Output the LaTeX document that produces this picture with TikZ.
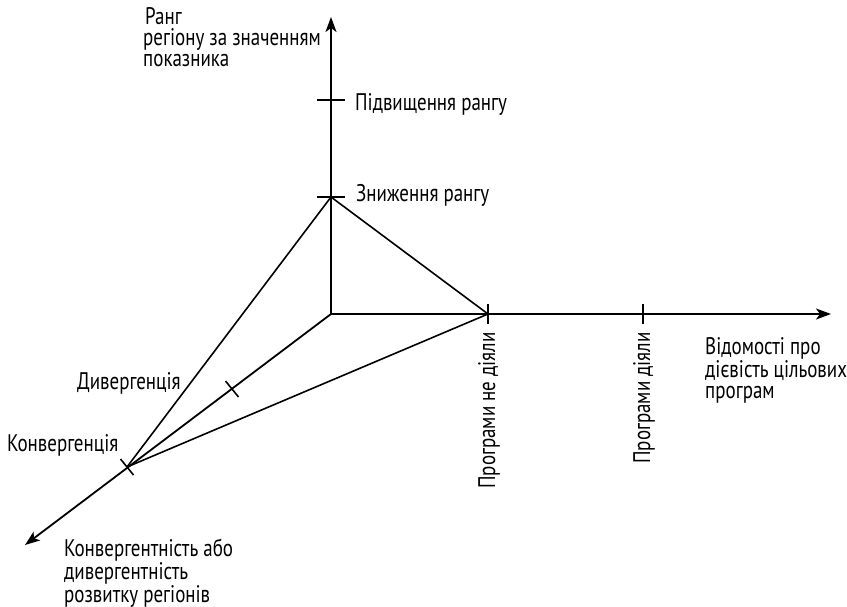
\documentclass[tikz,border=0pt]{standalone}
\usepackage{fontspec}
\setmainfont{PT Sans}[FakeStretch=0.79]
\usetikzlibrary{arrows.meta,calc}
\tikzset{
  axis/.style={line width=1.8pt,-{Stealth[length=15pt,width=11pt,inset=4pt]}},
  edge/.style={line width=1.6pt},
  tick/.style={line width=1.6pt},
  lbl/.style={inner sep=0pt,anchor=base west,align=left,font=\fontsize{24}{21}\selectfont},
  rlbl/.style={inner sep=0pt,anchor=base east,rotate=90,font=\fontsize{24}{21}\selectfont}
}
\begin{document}
\begin{tikzpicture}[x=1pt,y=-1pt]
\useasboundingbox (0,0) rectangle (847,607);
% axis points
\coordinate (O) at (331,314);
\coordinate (Ytip) at (331,17);
\coordinate (Xtip) at (831,314);
\coordinate (Dtip) at (25,545);
\coordinate (Y1) at (331,100);
\coordinate (Y2) at (331,197);
\coordinate (X1) at (488,314);
\coordinate (X2) at (643,314);
\coordinate (D1) at (232,389);
\coordinate (D2) at (127,467);
% axes
\draw[axis] (O) -- (Ytip);
\draw[axis] (O) -- (Xtip);
\draw[axis] (O) -- (Dtip);
% triangle lines
\draw[edge] (Y2) -- (D2);
\draw[edge] (Y2) -- (X1);
\draw[edge] (X1) -- (D2);
% ticks
\draw[tick] ($(Y1)+(-14,0)$) -- ($(Y1)+(14,0)$);
\draw[tick] ($(Y2)+(-14,0)$) -- ($(Y2)+(14,0)$);
\draw[tick] ($(X1)+(0,-10)$) -- ($(X1)+(0,10)$);
\draw[tick] ($(X2)+(0,-10)$) -- ($(X2)+(0,10)$);
\draw[tick] ($(D1)+(-6.5,-8)$) -- ($(D1)+(6.5,8)$);
\draw[tick] ($(D2)+(-6.5,-8)$) -- ($(D2)+(6.5,8)$);
% labels (multi-line labels are anchored at the baseline of their last line)
\node[lbl] (lrank) at (143,67) {\hspace*{2pt}Ранг\\регіону за значенням\\показника};
\node[lbl] (lup) at (355,111) {Підвищення рангу};
\node[lbl] (ldown) at (356,202) {Зниження рангу};
\node[rlbl] (lnot) at (495,332) {Програми не діяли};
\node[rlbl] (lact) at (650,332) {Програми діяли};
\node[lbl,font=\fontsize{24}{20.5}\selectfont] (linfo) at (705,398) {Відомості про\\дієвість цільових\\програм};
\node[lbl] (ldiv) at (77,389) {Дивергенція};
\node[lbl] (lconv) at (7,451) {Конвергенція};
\node[lbl,font=\fontsize{24}{17.5}\selectfont] (lcd) at (64,602) {Конвергентність або\\дивергентність\\розвитку регіонів};
\end{tikzpicture}
\end{document}
